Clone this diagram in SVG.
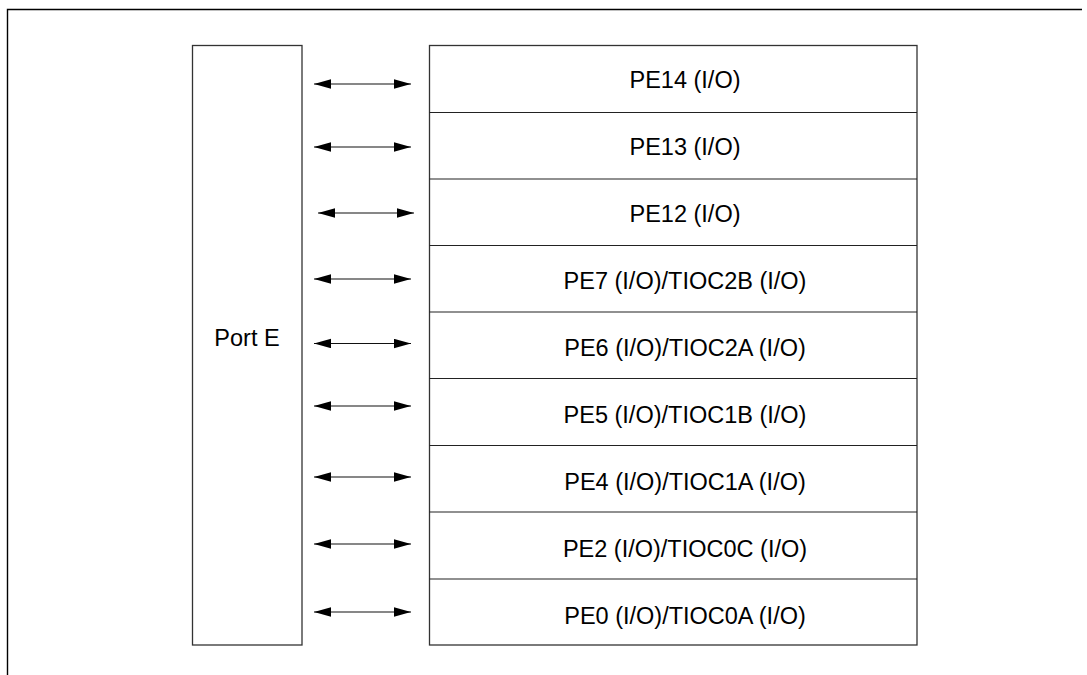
<svg xmlns="http://www.w3.org/2000/svg" width="1087" height="675" viewBox="0 0 1087 675">
<style>
.frame{fill:none;stroke:#000;stroke-width:1.4}
.box{fill:#fff;stroke:#333;stroke-width:1.3}
.div{stroke:#222;stroke-width:1.2}
.lbl{font-family:"Liberation Sans",Arial,sans-serif;font-size:23.5px;fill:#000;text-anchor:middle}
.arr{stroke:#111;stroke-width:1.2;marker-start:url(#ah);marker-end:url(#ah)}
</style>
<defs>
<marker id="ah" markerUnits="userSpaceOnUse" markerWidth="18" markerHeight="10" refX="17" refY="4.7" orient="auto-start-reverse">
<path d="M0,0 L17,4.7 L0,9.4 z" fill="#000"/>
</marker>
</defs>
<path class="frame" d="M7.5,675 V9.5 H1082"/>
<g id="port-e">
<rect class="box" x="192.5" y="45.5" width="109.5" height="599.5"/>
<text class="lbl" x="247" y="346">Port E</text>
</g>
<g id="pins">
<rect class="box" x="429.5" y="45.5" width="487.5" height="599.5"/>
<line class="div" x1="429.5" y1="112.5" x2="917" y2="112.5"/>
<line class="div" x1="429.5" y1="179" x2="917" y2="179"/>
<line class="div" x1="429.5" y1="245.5" x2="917" y2="245.5"/>
<line class="div" x1="429.5" y1="312" x2="917" y2="312"/>
<line class="div" x1="429.5" y1="378.5" x2="917" y2="378.5"/>
<line class="div" x1="429.5" y1="445.5" x2="917" y2="445.5"/>
<line class="div" x1="429.5" y1="512" x2="917" y2="512"/>
<line class="div" x1="429.5" y1="579" x2="917" y2="579"/>
</g>
<g id="pe14"><text class="lbl" x="685" y="88.3">PE14 (I/O)</text></g>
<g id="pe13"><text class="lbl" x="685" y="155.3">PE13 (I/O)</text></g>
<g id="pe12"><text class="lbl" x="685" y="222.3">PE12 (I/O)</text></g>
<g id="pe7"><text class="lbl" x="685" y="289.3">PE7 (I/O)/TIOC2B (I/O)</text></g>
<g id="pe6"><text class="lbl" x="685" y="356.3">PE6 (I/O)/TIOC2A (I/O)</text></g>
<g id="pe5"><text class="lbl" x="685" y="423.3">PE5 (I/O)/TIOC1B (I/O)</text></g>
<g id="pe4"><text class="lbl" x="685" y="490.3">PE4 (I/O)/TIOC1A (I/O)</text></g>
<g id="pe2"><text class="lbl" x="685" y="557.3">PE2 (I/O)/TIOC0C (I/O)</text></g>
<g id="pe0"><text class="lbl" x="685" y="624.3">PE0 (I/O)/TIOC0A (I/O)</text></g>
<g id="connectors">
<line class="arr" x1="314" y1="84" x2="411" y2="84"/>
<line class="arr" x1="314" y1="147" x2="411" y2="147"/>
<line class="arr" x1="318" y1="213" x2="414" y2="213"/>
<line class="arr" x1="314" y1="279" x2="411" y2="279"/>
<line class="arr" x1="314" y1="343.5" x2="411" y2="343.5"/>
<line class="arr" x1="314" y1="406" x2="411" y2="406"/>
<line class="arr" x1="314" y1="477" x2="411" y2="477"/>
<line class="arr" x1="314" y1="544" x2="411" y2="544"/>
<line class="arr" x1="314" y1="612" x2="411" y2="612"/>
</g>
</svg>
